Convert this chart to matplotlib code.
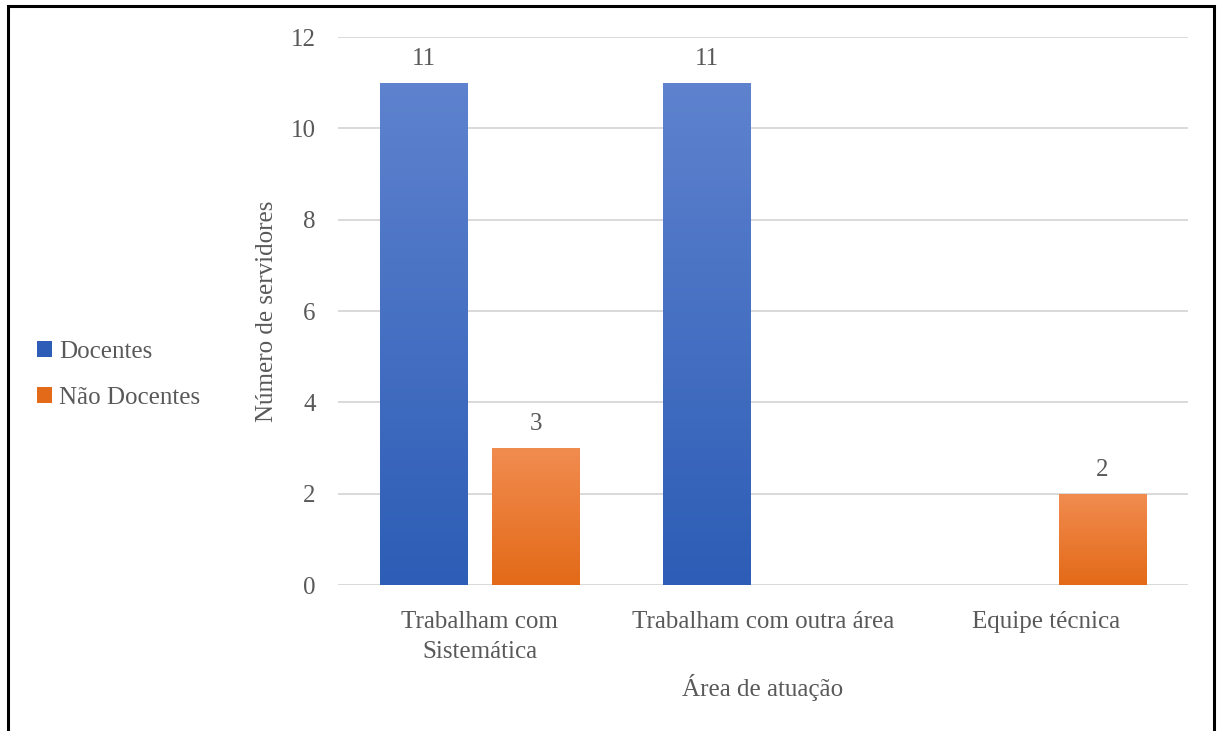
import numpy as np
import matplotlib
matplotlib.use("Agg")
import matplotlib.pyplot as plt
from matplotlib.colors import LinearSegmentedColormap
from matplotlib.patches import Rectangle, Patch

categorias = ["Trabalham com\nSistemática", "Trabalham com outra área", "Equipe técnica"]
docentes = [11, 11, 0]
nao_docentes = [3, 0, 2]
series_nomes = ["Docentes", "Não Docentes"]
yticks = [0, 2, 4, 6, 8, 10, 12]

TXT = "#595959"
FS = 18
plt.rcParams["font.family"] = ["Liberation Serif", "DejaVu Serif"]

fig = plt.figure(figsize=(12.19, 7.31), dpi=100)
W, H = 1219, 731
ax = fig.add_axes([338 / W, 1 - 585 / H, (1188 - 338) / W, (585 - 37) / H])

# gradient colours (top, bottom)
grad = {
    "Docentes": ("#5E82CE", "#2D5DB6"),
    "Não Docentes": ("#F18C50", "#E36A18"),
}

x = np.arange(len(categorias))
width = 0.31
offset = 0.198
ax.set_xlim(-0.5, len(categorias) - 0.5)
ax.set_ylim(0, 12)

for nome, vals, dx in [(series_nomes[0], docentes, -offset), (series_nomes[1], nao_docentes, offset)]:
    top, bot = grad[nome]
    cmap = LinearSegmentedColormap.from_list(nome, [bot, top])
    bars = ax.bar(x + dx, vals, width, color=top, zorder=2)
    for b, v in zip(bars, vals):
        if v == 0:
            b.set_visible(False)
            continue
        bx, by = b.get_x(), b.get_y()
        img = ax.imshow(np.linspace(0, 1, 100).reshape(-1, 1), cmap=cmap, origin="lower",
                        extent=[bx, bx + b.get_width(), by, by + b.get_height()],
                        aspect="auto", zorder=3)
        img.set_clip_path(b)
        ax.annotate(str(v), (b.get_x() + b.get_width() / 2, v), xytext=(0, 9),
                    textcoords="offset points", ha="center", va="bottom",
                    fontsize=FS, color=TXT)

ax.set_xlim(-0.5, len(categorias) - 0.5)
ax.set_ylim(0, 12)
ax.set_yticks(yticks)
ax.set_xticks(x)
ax.set_xticklabels(categorias, fontsize=FS, color=TXT, linespacing=1.45)
ax.tick_params(axis="y", labelsize=FS, labelcolor=TXT, length=0, pad=16)
ax.tick_params(axis="x", length=0, pad=19)
ax.grid(axis="y", color="#d9d9d9", linewidth=1.4, zorder=0)
ax.set_axisbelow(True)
for s in ax.spines.values():
    s.set_visible(False)

ax.set_ylabel("Número de servidores", fontsize=FS, color=TXT, labelpad=9)
ax.set_xlabel("Área de atuação", fontsize=FS, color=TXT, labelpad=8)

handles = [Patch(facecolor=grad[n][1], label=n) for n in series_nomes]
fig.legend(handles=handles, loc="center left", bbox_to_anchor=(14 / W, 1 - 375 / H),
           frameon=False, fontsize=FS, labelcolor=TXT, handlelength=0.6, handleheight=0.6,
           handletextpad=0.3, labelspacing=0.95)

# outer frame
fig.patches.append(Rectangle((8 / W, -0.01), (1214 - 8) / W, 1 - 6 / H + 0.01,
                             transform=fig.transFigure, fill=False, edgecolor="black",
                             linewidth=2.2))

fig.savefig("out.png", dpi=100)
